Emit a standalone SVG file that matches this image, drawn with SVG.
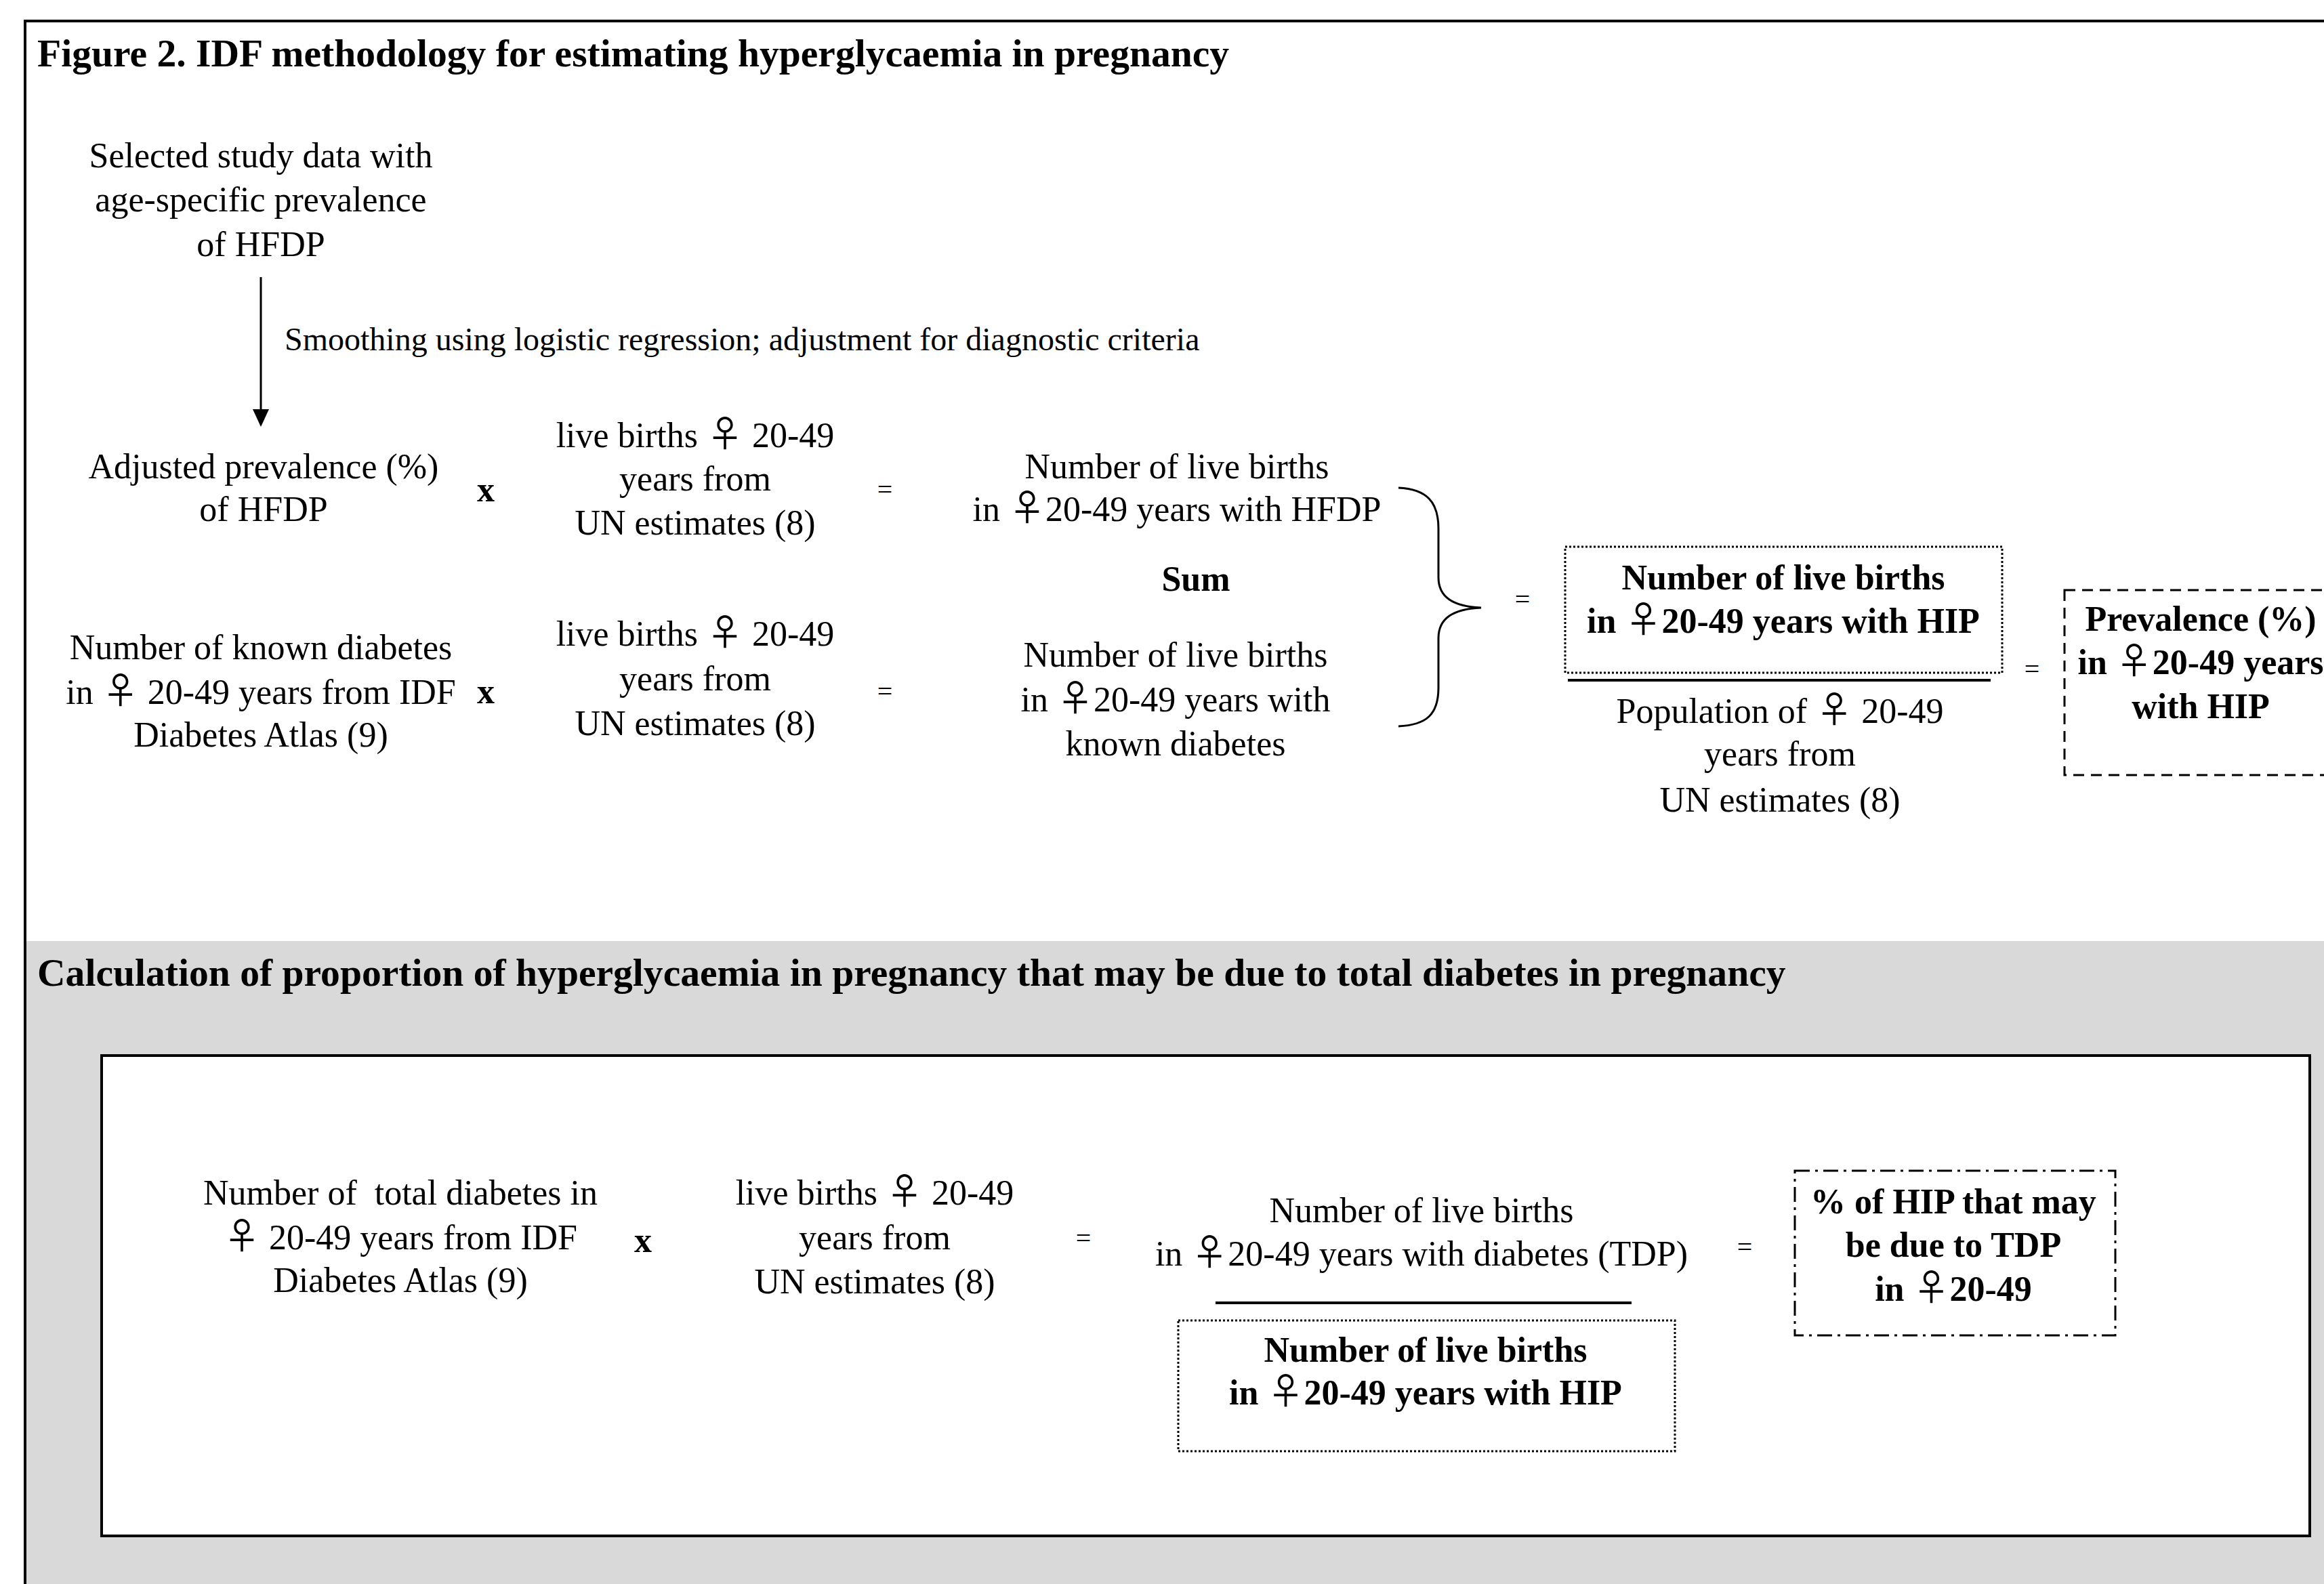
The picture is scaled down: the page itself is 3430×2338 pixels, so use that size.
<svg xmlns="http://www.w3.org/2000/svg" width="3430" height="2338" viewBox="0 0 3430 2338">
<style>
text{font-family:"Liberation Serif","Times New Roman",serif;fill:#000;}
.t{font-size:52px;text-anchor:middle;}
.b{font-size:52px;text-anchor:middle;font-weight:bold;}
.h{font-size:57.6px;font-weight:bold;}
.s{font-size:48px;}
.op{font-size:52px;font-weight:bold;text-anchor:middle;}
.eq{font-size:40px;text-anchor:middle;}
.f{font-family:"Noto Sans CJK JP",sans-serif;font-size:54px;font-weight:normal;}
.ln{stroke:#000;stroke-width:3;fill:none;}
.dot{stroke:#000;stroke-width:3;fill:none;stroke-dasharray:3 3;}
.dash{stroke:#000;stroke-width:3;fill:none;stroke-dasharray:16 10;}
.dd{stroke:#000;stroke-width:3;fill:none;stroke-dasharray:22 8 4 8;}
</style>
<rect x="0" y="0" width="3430" height="2338" fill="#fff"/>
<rect x="37" y="1389" width="3393" height="949" fill="#d9d9d9"/>
<g id="frame">
<line x1="37" y1="31" x2="3430" y2="31" stroke="#000" stroke-width="4"/>
<line x1="37" y1="29" x2="37" y2="2338" stroke="#000" stroke-width="4"/>
</g>
<text id="title" class="h" x="55" y="98">Figure 2. IDF methodology for estimating hyperglycaemia in pregnancy</text>

<g id="study-data">
<text class="t" x="385" y="247">Selected study data with</text>
<text class="t" x="385" y="312">age-specific prevalence</text>
<text class="t" x="385" y="378">of HFDP</text>
</g>
<g id="connectors">
<line x1="385" y1="409" x2="385" y2="606" class="ln"/>
<path d="M373,604 L397,604 L385,630 Z" fill="#000"/>
<path class="ln" d="M2064,720 C2105,722 2123,740 2123,780 L2123,852 C2123,882 2145,895 2186,897 C2145,899 2123,912 2123,942 L2123,1015 C2123,1055 2105,1070 2064,1072"/>
</g>
<text id="smoothing" class="s" x="420" y="517">Smoothing using logistic regression; adjustment for diagnostic criteria</text>

<g id="adjusted-prevalence">
<text class="t" x="389" y="706">Adjusted prevalence (%)</text>
<text class="t" x="389" y="769">of HFDP</text>
</g>
<text class="op" x="717" y="740">x</text>
<g id="live-births-1">
<text class="t" x="1026" y="660">live births <tspan class="f">♀</tspan> 20-49</text>
<text class="t" x="1026" y="724">years from</text>
<text class="t" x="1026" y="789">UN estimates (8)</text>
</g>
<text class="eq" x="1306" y="736">=</text>
<g id="births-hfdp">
<text class="t" x="1737" y="706">Number of live births</text>
<text class="t" x="1737" y="769">in <tspan class="f">♀</tspan>20-49 years with HFDP</text>
</g>
<text id="sum" class="b" x="1765" y="872">Sum</text>

<g id="known-diabetes">
<text class="t" x="385" y="973">Number of known diabetes</text>
<text class="t" x="385" y="1039">in <tspan class="f">♀</tspan> 20-49 years from IDF</text>
<text class="t" x="385" y="1102">Diabetes Atlas (9)</text>
</g>
<text class="op" x="717" y="1038">x</text>
<g id="live-births-2">
<text class="t" x="1026" y="953">live births <tspan class="f">♀</tspan> 20-49</text>
<text class="t" x="1026" y="1019">years from</text>
<text class="t" x="1026" y="1085">UN estimates (8)</text>
</g>
<text class="eq" x="1306" y="1034">=</text>
<g id="births-known">
<text class="t" x="1735" y="984">Number of live births</text>
<text class="t" x="1735" y="1050">in <tspan class="f">♀</tspan>20-49 years with</text>
<text class="t" x="1735" y="1115">known diabetes</text>
</g>
<text class="eq" x="2247" y="898">=</text>

<g id="births-hip">
<rect class="dot" x="2310" y="807" width="645" height="186"/>
<text class="b" x="2632" y="870">Number of live births</text>
<text class="b" x="2632" y="934">in <tspan class="f">♀</tspan>20-49 years with HIP</text>
</g>
<line x1="2314" y1="1004" x2="2938" y2="1004" stroke="#000" stroke-width="4"/>
<g id="population">
<text class="t" x="2627" y="1067">Population of <tspan class="f">♀</tspan> 20-49</text>
<text class="t" x="2627" y="1130">years from</text>
<text class="t" x="2627" y="1198">UN estimates (8)</text>
</g>
<text class="eq" x="2999" y="1001">=</text>
<g id="prevalence-hip">
<rect class="dash" x="3047" y="871" width="450" height="273"/>
<text class="b" x="3248" y="931">Prevalence (%)</text>
<text class="b" x="3248" y="995">in <tspan class="f">♀</tspan>20-49 years</text>
<text class="b" x="3248" y="1060">with HIP</text>
</g>

<text id="heading2" class="h" x="55" y="1455">Calculation of proportion of hyperglycaemia in pregnancy that may be due to total diabetes in pregnancy</text>
<rect id="inner-box" x="150" y="1558" width="3259" height="709" fill="#fff" stroke="#000" stroke-width="4"/>

<g id="total-diabetes">
<text class="t" x="591" y="1778" style="white-space:pre">Number of  total diabetes in</text>
<text class="t" x="591" y="1844"><tspan class="f">♀</tspan> 20-49 years from IDF</text>
<text class="t" x="591" y="1907">Diabetes Atlas (9)</text>
</g>
<text class="op" x="949" y="1848">x</text>
<g id="live-births-3">
<text class="t" x="1291" y="1778">live births <tspan class="f">♀</tspan> 20-49</text>
<text class="t" x="1291" y="1844">years from</text>
<text class="t" x="1291" y="1909">UN estimates (8)</text>
</g>
<text class="eq" x="1599" y="1841">=</text>
<g id="births-tdp">
<text class="t" x="2098" y="1804">Number of live births</text>
<text class="t" x="2098" y="1868">in <tspan class="f">♀</tspan>20-49 years with diabetes (TDP)</text>
</g>
<line x1="1794" y1="1923" x2="2408" y2="1923" stroke="#000" stroke-width="4"/>
<g id="births-hip-2">
<rect class="dot" x="1739" y="1949" width="733" height="193"/>
<text class="b" x="2104" y="2010">Number of live births</text>
<text class="b" x="2104" y="2073">in <tspan class="f">♀</tspan>20-49 years with HIP</text>
</g>
<text class="eq" x="2575" y="1854">=</text>
<g id="pct-hip-tdp">
<rect class="dd" x="2649" y="1728" width="473" height="243"/>
<text class="b" x="2883" y="1791">% of HIP that may</text>
<text class="b" x="2883" y="1855">be due to TDP</text>
<text class="b" x="2883" y="1920">in <tspan class="f">♀</tspan>20-49</text>
</g>
</svg>
